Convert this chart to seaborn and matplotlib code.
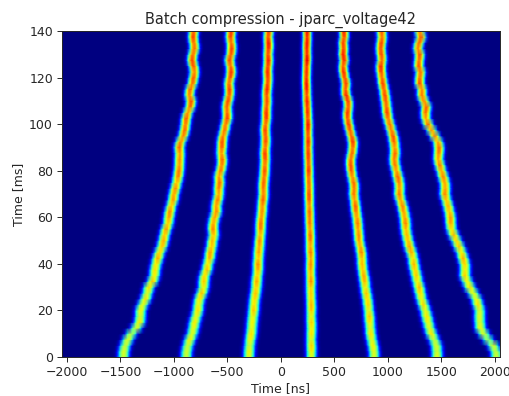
import numpy as np
import seaborn as sns
import matplotlib
matplotlib.use("Agg")
import matplotlib.pyplot as plt

# one row of the mountain range every 2.5 ms, 0 to 140 ms
n_turns = 57
row_step = 2.5
bin_step = 12.5

# bunch centres [ns]
bunch_1 = [-1470, -1468, -1454, -1430, -1398, -1352, -1320, -1312, -1311, -1290,
           -1264, -1246, -1233, -1200, -1180, -1176, -1164, -1150, -1133, -1110,
           -1096, -1086, -1071, -1052, -1046, -1036, -1024, -1006, -999, -985,
           -971, -960, -952, -947, -946, -942, -950, -935, -912, -898,
           -890, -884, -868, -846, -837, -855, -846, -825, -815, -805,
           -815, -830, -821, -805, -812, -820, -812]
bunch_2 = [-883, -880, -868, -850, -827, -815, -805, -790, -774, -770,
           -759, -738, -721, -720, -712, -690, -681, -665, -659, -645,
           -640, -625, -634, -630, -618, -600, -603, -590, -578, -580,
           -571, -578, -562, -550, -546, -555, -550, -548, -540, -525,
           -515, -500, -500, -505, -493, -480, -478, -485, -472, -462,
           -468, -480, -465, -458, -462, -470, -462]
bunch_3 = [-297, -295, -291, -284, -275, -270, -266, -260, -253, -250,
           -244, -235, -228, -225, -219, -212, -213, -208, -206, -200,
           -197, -190, -188, -186, -181, -174, -172, -166, -160, -163,
           -160, -154, -150, -148, -144, -148, -144, -140, -141, -146,
           -141, -134, -135, -132, -128, -132, -128, -122, -119, -124,
           -119, -115, -119, -113, -113, -118, -110]
bunch_4 = [287, 288, 287, 285, 287, 289, 287, 285, 287, 286,
           284, 282, 281, 283, 281, 279, 281, 282, 280, 277,
           278, 276, 275, 272, 271, 270, 268, 267, 265, 266,
           264, 262, 262, 261, 259, 258, 256, 258, 256, 255,
           256, 253, 251, 249, 246, 244, 243, 241, 240, 242,
           243, 246, 246, 244, 246, 248, 246]
bunch_5 = [874, 872, 864, 852, 842, 838, 833, 830, 824, 818,
           811, 800, 792, 786, 777, 768, 761, 760, 755, 745,
           733, 730, 724, 720, 714, 705, 699, 692, 683, 688,
           683, 670, 661, 655, 655, 668, 675, 676, 662, 648,
           636, 625, 624, 634, 630, 612, 605, 612, 599, 588,
           583, 595, 583, 590, 583, 596, 590]
bunch_6 = [1463, 1462, 1457, 1435, 1410, 1392, 1379, 1366, 1354, 1335,
           1317, 1306, 1295, 1280, 1270, 1256, 1245, 1238, 1223, 1205,
           1192, 1180, 1170, 1168, 1161, 1150, 1139, 1122, 1108, 1112,
           1108, 1095, 1083, 1070, 1061, 1070, 1067, 1060, 1051, 1035,
           1020, 1005, 995, 990, 983, 975, 967, 955, 948, 940,
           936, 948, 942, 935, 942, 950, 942]
bunch_7 = [2019, 2012, 1987, 1940, 1900, 1868, 1863, 1860, 1863, 1845,
           1831, 1800, 1769, 1745, 1722, 1725, 1722, 1706, 1691, 1668,
           1644, 1618, 1597, 1590, 1588, 1578, 1566, 1550, 1535, 1540,
           1535, 1520, 1504, 1488, 1473, 1478, 1482, 1470, 1440, 1410,
           1379, 1358, 1354, 1363, 1340, 1320, 1322, 1300, 1301, 1310,
           1290, 1295, 1301, 1282, 1295, 1315, 1295]

# peak height and half width of the bunches, per row
peak = [0.60, 0.60, 0.61, 0.61, 0.62, 0.62, 0.63, 0.64, 0.64, 0.65,
        0.66, 0.66, 0.67, 0.68, 0.68, 0.69, 0.70, 0.70, 0.71, 0.71,
        0.72, 0.72, 0.73, 0.73, 0.74, 0.74, 0.75, 0.75, 0.75, 0.76,
        0.76, 0.77, 0.77, 0.77, 0.78, 0.78, 0.78, 0.79, 0.79, 0.79,
        0.80, 0.80, 0.80, 0.80, 0.81, 0.81, 0.81, 0.81, 0.81, 0.82,
        0.82, 0.82, 0.82, 0.82, 0.82, 0.82, 0.82]
width = [52, 52, 52, 52, 52, 52, 52, 52, 51, 51,
         51, 51, 51, 51, 50, 50, 50, 50, 50, 50,
         49, 49, 49, 49, 49, 49, 48, 48, 48, 48,
         48, 48, 47, 47, 47, 47, 47, 47, 46, 46,
         46, 46, 46, 46, 46, 46, 45, 45, 45, 45,
         45, 45, 45, 45, 45, 45, 45]
# brightness differences between the bunches and the mottling along them
bunch_gain = [0.98, 1.0, 1.03, 1.06, 1.03, 1.0, 0.97]
bunch_scale = [1.0, 1.0, 0.98, 0.9, 0.95, 1.0, 1.0]
ripple = [0.0, 0.03, -0.02, 0.04, -0.03, 0.01, 0.05, -0.04, 0.02, -0.01,
          0.03, -0.05, 0.02, 0.04, -0.02, 0.0, -0.03, 0.05, -0.01]

x_ticks = [-2000, -1500, -1000, -500, 0, 500, 1000, 1500, 2000]
y_ticks = [0, 20, 40, 60, 80, 100, 120, 140]

bunches = np.array([bunch_1, bunch_2, bunch_3, bunch_4, bunch_5, bunch_6, bunch_7], dtype=float)
time_bins = np.arange(-2060, 2061, bin_step)
half = np.array(width)[:, None]
image = np.zeros((n_turns, len(time_bins)))
for k, centres in enumerate(bunches):
    height = np.array(peak) * bunch_gain[k] + np.roll(np.resize(ripple, n_turns), k * 5)
    offset = (time_bins[None, :] - centres[:, None]) / (half * bunch_scale[k])
    image += height[:, None] * np.exp(-np.abs(offset)**2.4)

fig = plt.figure(figsize=(5.1, 3.96), dpi=100)
ax = fig.add_axes([62 / 510, 1 - 357 / 396, 438 / 510, 326 / 396])
sns.heatmap(image, cmap="jet", vmin=0, vmax=1, cbar=False, shading="gouraud",
            xticklabels=False, yticklabels=False, ax=ax)


# heatmap works in cell numbers, convert the physical units
def to_col(t):
    return (np.asarray(t, dtype=float) - time_bins[0]) / bin_step


def to_row(t):
    return np.asarray(t, dtype=float) / row_step


ax.set_xlim(to_col(-2047), to_col(2050))
ax.set_ylim(to_row(0), to_row(140))
ax.set_xticks(to_col(x_ticks), [str(v).replace("-", "\u2212") for v in x_ticks], rotation=0, fontsize=9)
ax.set_yticks(to_row(y_ticks), [str(v) for v in y_ticks], rotation=0, fontsize=9)
ax.tick_params(length=3.5, width=0.7, pad=3, colors="#262626")
for s in ax.spines.values():
    s.set_visible(True)
    s.set_linewidth(0.7)
    s.set_color("#262626")
ax.set_xlabel("Time [ns]", fontsize=9, labelpad=2, color="#262626")
ax.set_ylabel("Time [ms]", fontsize=9, labelpad=3, color="#262626")
ax.set_title("Batch compression - jparc_voltage42", fontsize=10.5, pad=5, color="#262626")
fig.savefig("out.png", dpi=100)
